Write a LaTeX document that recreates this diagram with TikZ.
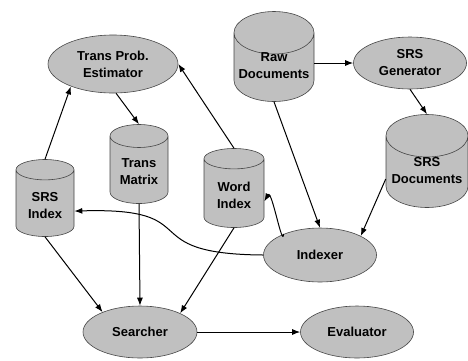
\documentclass[tikz,border=0pt]{standalone}
\usepackage{fontspec}
\setmainfont{Liberation Sans}
\usetikzlibrary{shapes.geometric,arrows.meta}
\definecolor{shapegray}{RGB}{192,192,192}
\definecolor{edgegray}{RGB}{70,70,70}
\tikzset{
  proc/.style={ellipse,draw=edgegray,fill=shapegray,line width=0.6pt,inner sep=0pt,
    align=center,font=\fontsize{13}{17}\selectfont\bfseries},
  store/.style={cylinder,shape border rotate=90,aspect=0.6,draw=edgegray,fill=shapegray,
    line width=0.6pt,inner sep=0pt,align=center,text height=23pt,anchor=shape center,
    font=\fontsize{13}{17}\selectfont\bfseries},
  flow/.style={-{Latex[length=8pt,width=6pt]},line width=1pt},
}
\begin{document}
\begin{tikzpicture}[x=1pt,y=1pt,yscale=-1]
\useasboundingbox (0,0) rectangle (468,360);

%Shape: Ellipse
\node[proc,minimum width=130,minimum height=58] (estimator) at (113,64) {Trans Prob.\\Estimator};
\node[proc,minimum width=113,minimum height=52] (generator) at (410,63) {SRS\\Generator};
\node[proc,minimum width=113,minimum height=54] (indexer) at (320,255) {Indexer};
\node[proc,minimum width=114,minimum height=52] (searcher) at (140,332) {Searcher};
\node[proc,minimum width=113,minimum height=52] (evaluator) at (357,332) {Evaluator};

%Shape: Can
\node[store,minimum width=80,minimum height=90] (rawdocs) at (274,56.5) {Raw\\Documents};
\node[store,minimum width=82,minimum height=93] (srsdocs) at (427,161) {SRS\\Documents};
\node[store,text height=30pt,minimum width=58,minimum height=79] (transmat) at (139,164) {Trans\\Matrix};
\node[store,text height=30pt,minimum width=58,minimum height=77] (srsidx) at (45,198) {SRS\\Index};
\node[store,text height=30pt,minimum width=60,minimum height=79] (wordidx) at (234,188) {Word\\Index};

%Straight Lines
\draw[flow] (srsidx.north) -- (estimator.208);
\draw[flow] (estimator.276) -- (transmat.north);
\draw[flow] (wordidx.north) -- (estimator.east);
\draw[flow] (rawdocs.east |- generator.west) -- (generator.west);
\draw[flow] (generator.south) -- (srsdocs.north);
\draw[flow] (rawdocs.south) -- (indexer.north);
\draw[flow] (srsdocs.190) -- (indexer.25);
\draw[flow] (srsidx.south) -- (searcher.152);
\draw[flow] (transmat.south) -- (searcher.north);
\draw[flow] (wordidx.south) -- (searcher.25);
\draw[flow] (searcher.east) -- (evaluator.west);

%Curve Lines
\draw[flow] (indexer.150) to[out=95,in=-60] (wordidx.-15);
\draw[flow] (indexer.west) .. controls (130,254) and (210,207) .. (srsidx.-15);

\end{tikzpicture}
\end{document}
